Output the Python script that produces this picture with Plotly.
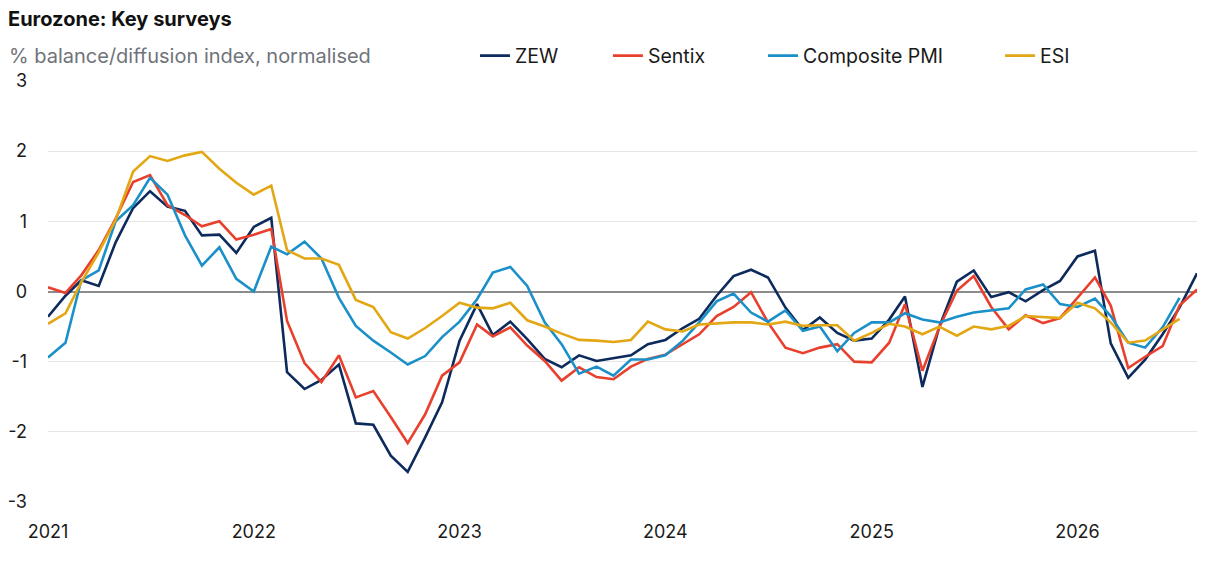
import pandas as pd
import plotly.graph_objects as go

months = pd.date_range("2021-01-01", periods=68, freq="MS")

zew = [-0.36, -0.06, 0.16, 0.08, 0.70, 1.19, 1.43, 1.21, 1.15, 0.80, 0.81, 0.55,
       0.92, 1.05, -1.15, -1.39, -1.26, -1.04, -1.88, -1.90, -2.34, -2.57, -2.08, -1.58,
       -0.70, -0.18, -0.62, -0.43, -0.68, -0.96, -1.08, -0.91, -0.99, -0.95, -0.91, -0.75,
       -0.69, -0.52, -0.39, -0.06, 0.22, 0.31, 0.20, -0.23, -0.55, -0.37, -0.59, -0.70,
       -0.67, -0.40, -0.07, -1.36, -0.50, 0.14, 0.30, -0.08, -0.01, -0.14, 0.02, 0.15,
       0.50, 0.58, -0.74, -1.23, -0.97, -0.61, -0.23, 0.26]

sentix = [0.06, -0.02, 0.23, 0.59, 1.04, 1.56, 1.66, 1.23, 1.09, 0.93, 1.00, 0.74,
          0.81, 0.89, -0.42, -1.02, -1.29, -0.91, -1.51, -1.42, -1.79, -2.16, -1.75, -1.20,
          -1.01, -0.47, -0.64, -0.51, -0.77, -0.99, -1.27, -1.08, -1.22, -1.25, -1.07, -0.96,
          -0.90, -0.75, -0.61, -0.35, -0.22, -0.01, -0.44, -0.80, -0.88, -0.80, -0.75, -1.00,
          -1.01, -0.73, -0.18, -1.13, -0.51, 0.01, 0.22, -0.22, -0.54, -0.34, -0.45, -0.38,
          -0.09, 0.20, -0.20, -1.09, -0.93, -0.78, -0.20, 0.03]

pmi = [-0.94, -0.73, 0.16, 0.30, 1.00, 1.23, 1.62, 1.38, 0.80, 0.37, 0.63, 0.18,
       0.00, 0.64, 0.53, 0.71, 0.47, -0.09, -0.49, -0.70, -0.87, -1.04, -0.92, -0.65,
       -0.43, -0.11, 0.27, 0.35, 0.08, -0.44, -0.75, -1.17, -1.07, -1.20, -0.97, -0.97,
       -0.91, -0.70, -0.44, -0.14, -0.03, -0.30, -0.43, -0.27, -0.56, -0.50, -0.85, -0.59,
       -0.44, -0.44, -0.31, -0.40, -0.44, -0.36, -0.30, -0.27, -0.24, 0.03, 0.10, -0.18,
       -0.22, -0.10, -0.35, -0.73, -0.80, -0.51, -0.09]

esi = [-0.46, -0.31, 0.13, 0.56, 1.02, 1.71, 1.93, 1.86, 1.94, 1.99, 1.75, 1.55,
       1.38, 1.51, 0.59, 0.47, 0.47, 0.38, -0.12, -0.22, -0.58, -0.67, -0.52, -0.35,
       -0.16, -0.23, -0.24, -0.16, -0.41, -0.50, -0.60, -0.69, -0.70, -0.72, -0.69, -0.43,
       -0.54, -0.57, -0.47, -0.45, -0.44, -0.44, -0.47, -0.43, -0.49, -0.48, -0.48, -0.70,
       -0.59, -0.46, -0.50, -0.61, -0.50, -0.63, -0.50, -0.54, -0.49, -0.35, -0.37, -0.38,
       -0.16, -0.24, -0.44, -0.73, -0.70, -0.54, -0.39]

y_ticks = [3, 2, 1, 0, -1, -2, -3]
y_tick_labels = ["3", "2", "1", "0", "-1", "-2", "-3"]

# name, values, colour, legend slot, legend x (paper)
series = [
    ("ZEW", zew, "#0d2a5c", "legend", 0.3716),
    ("Sentix", sentix, "#e8402d", "legend2", 0.4873),
    ("Composite PMI", pmi, "#1b90c8", "legend3", 0.6223),
    ("ESI", esi, "#e3a714", "legend4", 0.8286),
]

fig = go.Figure()
legends = {}
for name, vals, colour, leg, lx in series:
    fig.add_trace(go.Scatter(x=months[:len(vals)], y=vals, name=name, mode="lines",
                             line=dict(color=colour, width=2.6), legend=leg))
    legends[leg] = dict(orientation="h", x=lx, y=1.0594, xanchor="left", yanchor="middle",
                        font=dict(size=19.5, color="#1a1a1a"), bgcolor="rgba(0,0,0,0)")

# page adds an 8px body margin, so the figure is a bit smaller than the window
fig.update_layout(
    width=1212, height=575,
    margin=dict(l=40, r=23, t=73, b=81, autoexpand=False),
    paper_bgcolor="white", plot_bgcolor="white",
    font=dict(family="Inter, Lato, sans-serif", size=18, color="#1a1a1a"),
    title=dict(text="<b>Eurozone: Key surveys</b>", font=dict(size=20, color="#111"),
               xref="container", yref="container", x=0, y=0.9817,
               xanchor="left", yanchor="middle", pad=dict(l=0, t=0, b=0, r=0)),
    showlegend=True,
    annotations=[dict(text="% balance/diffusion index, normalised", xref="paper", yref="paper",
                      x=-0.036, y=1.0594, xanchor="left", yanchor="middle", showarrow=False,
                      font=dict(size=20, color="#6f737a"))],
    **legends,
)
fig.update_xaxes(range=[months[0], months[-1]], dtick="M12", tickformat="%Y",
                 showgrid=False, zeroline=False, showline=False, ticks="",
                 ticklabelstandoff=17, tickfont=dict(size=18))
fig.update_yaxes(range=[-3, 3], tickvals=y_ticks, ticktext=y_tick_labels,
                 showgrid=True, gridcolor="#e6e6e6", gridwidth=1,
                 zeroline=True, zerolinecolor="#8c8c8c", zerolinewidth=1.5,
                 showline=False, ticks="", ticklabelstandoff=20, tickfont=dict(size=18))

fig.write_html("out.html")
